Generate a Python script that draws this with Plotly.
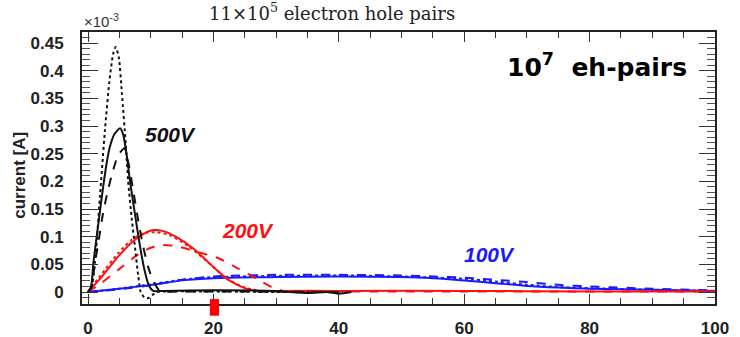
import plotly.graph_objects as go

# ---- data (current in units of 1e-3 A, time axis 0..100) ----
x_500_dot = [0, 0.5, 1.1, 1.9, 2.7, 3.4, 4.0, 4.4, 4.9, 5.4, 6.0, 6.4, 7.0, 7.5, 8.0, 8.4, 9.0, 9.6, 10.2, 11, 13, 20, 30, 40]
y_500_dot = [0, 0.005, 0.052, 0.172, 0.293, 0.38, 0.43, 0.443, 0.425, 0.36, 0.27, 0.2, 0.13, 0.08, 0.03, 0.0, -0.01, -0.011, -0.006, 0, 0.001, 0.001, 0.0, 0.0]

x_500_sol = [0, 0.5, 0.85, 1.5, 2.2, 3.0, 3.5, 4.2, 5.1, 5.6, 6.2, 6.7, 7.5, 8.3, 9.0, 9.7, 10.4, 12, 20, 30, 35, 38, 40, 42]
y_500_sol = [0, 0.01, 0.052, 0.11, 0.172, 0.235, 0.263, 0.285, 0.296, 0.285, 0.245, 0.2, 0.14, 0.082, 0.04, 0.012, 0.002, 0.002, 0.003, 0.002, -0.002, 0.0, -0.003, 0.0]

x_500_dash = [0, 0.5, 1.1, 1.8, 2.4, 3.2, 4.0, 4.8, 5.8, 6.5, 7.2, 8.0, 8.8, 9.6, 10.4, 11.5, 15, 25, 40]
y_500_dash = [0, 0.008, 0.052, 0.1, 0.143, 0.185, 0.22, 0.247, 0.26, 0.23, 0.184, 0.13, 0.082, 0.045, 0.02, 0.002, 0.001, 0.001, 0.0]

x_200_sol = [0, 2, 4.8, 7, 9, 10.4, 12, 14, 17.1, 20, 22.4, 25, 27.2, 30, 40, 60, 80, 100]
y_200_sol = [0, 0.025, 0.064, 0.09, 0.106, 0.112, 0.11, 0.1, 0.076, 0.045, 0.022, 0.007, 0.001, 0.002, 0.002, 0.002, 0.001, 0.001]

x_200_dot = [0, 2, 4.8, 7, 9, 11, 13, 16, 19, 22, 25, 28, 40]
y_200_dot = [0, 0.03, 0.07, 0.095, 0.107, 0.108, 0.103, 0.083, 0.055, 0.025, 0.008, 0.001, 0.0]

x_200_dash = [0, 2, 4.8, 8, 10, 11.7, 14, 17, 20.8, 24, 27.2, 29.5, 31.4, 35, 60, 100]
y_200_dash = [0, 0.015, 0.04, 0.068, 0.08, 0.085, 0.083, 0.074, 0.061, 0.042, 0.022, 0.008, 0.001, 0.001, 0.001, 0.001]

x_100 = [0, 5, 10, 15, 20, 30, 40, 50, 55, 60, 65, 70, 75, 80, 90, 100]
y_100_sol = [0, 0.006, 0.0127, 0.021, 0.025, 0.027, 0.028, 0.027, 0.025, 0.021, 0.016, 0.011, 0.008, 0.006, 0.004, 0.002]
y_100_dash = [0, 0.005, 0.012, 0.022, 0.028, 0.031, 0.031, 0.030, 0.028, 0.026, 0.022, 0.018, 0.013, 0.010, 0.006, 0.003]
y_100_dot = [0, 0.006, 0.014, 0.022, 0.027, 0.029, 0.030, 0.028, 0.026, 0.024, 0.019, 0.013, 0.009, 0.007, 0.004, 0.002]

x_ticks = [0, 20, 40, 60, 80, 100]
y_ticks = [0, 0.05, 0.1, 0.15, 0.2, 0.25, 0.3, 0.35, 0.4, 0.45]
y_tick_text = ["0", "0.05", "0.1", "0.15", "0.2", "0.25", "0.3", "0.35", "0.4", "0.45"]

BLACK = "#111111"
RED = "#ff1010"
BLUE = "#1a1aff"

series = [
    (x_100, y_100_sol, BLUE, "solid"),
    (x_100, y_100_dash, BLUE, "dash"),
    (x_100, y_100_dot, BLUE, "dot"),
    (x_200_sol, y_200_sol, RED, "solid"),
    (x_200_dash, y_200_dash, RED, "dash"),
    (x_200_dot, y_200_dot, RED, "dot"),
    (x_500_sol, y_500_sol, BLACK, "solid"),
    (x_500_dash, y_500_dash, BLACK, "dash"),
    (x_500_dot, y_500_dot, BLACK, "dot"),
]

fig = go.Figure()
for xs, ys, col, dash in series:
    fig.add_trace(go.Scatter(x=xs, y=ys, mode="lines",
                             line=dict(color=col, width=2, dash=dash, shape="spline", smoothing=0.6),
                             showlegend=False, hoverinfo="skip"))

tickfont = dict(family="Liberation Sans, Arial, sans-serif", size=17, color="#222222", weight="bold")

fig.update_layout(
    width=740, height=337,
    margin=dict(l=82, r=25, t=32, b=33, autoexpand=False),
    paper_bgcolor="white", plot_bgcolor="white",
    showlegend=False,
    xaxis=dict(range=[-0.96, 100], tickmode="array", tickvals=x_ticks, automargin=False,
               ticks="inside", ticklen=10, tickwidth=1.2, tickcolor="#333",
               minor=dict(dtick=5, ticks="inside", ticklen=6, tickcolor="#333", tickwidth=1),
               showline=True, linecolor="#222", linewidth=2, mirror="allticks",
               showgrid=False, zeroline=False, tickfont=tickfont, ticklabelstandoff=8),
    yaxis=dict(range=[-0.0217, 0.470], tickmode="array", tickvals=y_ticks, ticktext=y_tick_text,
               automargin=False,
               ticks="inside", ticklen=16, tickwidth=1.2, tickcolor="#333",
               minor=dict(dtick=0.01, ticks="inside", ticklen=8, tickcolor="#555", tickwidth=1),
               showline=True, linecolor="#222", linewidth=2, mirror="allticks",
               showgrid=False, zeroline=False, tickfont=tickfont, ticklabelstandoff=13),
)

annos = [
    dict(text="11×10<sup>5</sup> electron hole pairs", xref="paper", yref="paper", x=0.395, y=1.074,
         xanchor="center", yanchor="middle", showarrow=False,
         font=dict(family="DejaVu Serif, serif", size=18, color="#222")),
    dict(text="×10<sup>-3</sup>", xref="paper", yref="paper", x=0.0, y=1.0,
         xanchor="left", yanchor="bottom", showarrow=False,
         font=dict(family="Liberation Sans, Arial, sans-serif", size=15, color="#333")),
    dict(text="current [A]", xref="paper", yref="paper", x=-0.1, y=0.474, textangle=-90,
         xanchor="center", yanchor="middle", showarrow=False,
         font=dict(family="Liberation Sans, Arial, sans-serif", size=17, color="#222", weight="bold")),
    dict(text="<b><i>500V</i></b>", xref="x", yref="y", x=13.2, y=0.285, showarrow=False,
         xanchor="center", yanchor="middle",
         font=dict(family="Liberation Sans, Arial, sans-serif", size=21, color=BLACK)),
    dict(text="<b><i>200V</i></b>", xref="x", yref="y", x=25.5, y=0.111, showarrow=False,
         xanchor="center", yanchor="middle",
         font=dict(family="Liberation Sans, Arial, sans-serif", size=21, color=RED)),
    dict(text="<b><i>100V</i></b>", xref="x", yref="y", x=64.0, y=0.067, showarrow=False,
         xanchor="center", yanchor="middle",
         font=dict(family="Liberation Sans, Arial, sans-serif", size=21, color=BLUE)),
    dict(text="<b>10<sup>7</sup>  eh-pairs</b>", xref="paper", yref="paper", x=0.813, y=0.877, showarrow=False,
         xanchor="center", yanchor="middle", bgcolor="white",
         font=dict(family="DejaVu Sans, sans-serif", size=25, color="#000")),
]
fig.update_layout(annotations=annos)

# red marker below the x-axis at x = 20
fig.add_shape(type="rect", xref="paper", yref="paper", x0=0.202, x1=0.2165, y0=-0.043, y1=0.018,
              fillcolor="#ff0000", line=dict(width=0), layer="above")

fig.write_html("out.html", config={"displayModeBar": False},
               post_script="document.body.style.margin='0';document.body.style.overflow='hidden';")
